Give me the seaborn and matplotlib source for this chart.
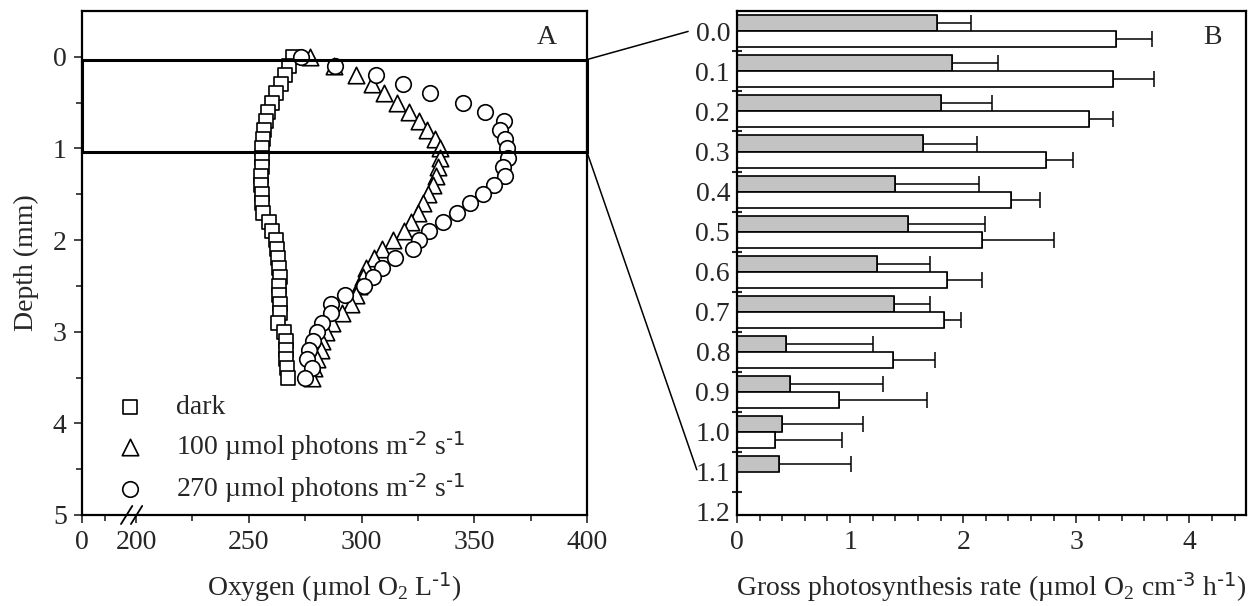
import numpy as np
import pandas as pd
import matplotlib
matplotlib.use("Agg")
import matplotlib.pyplot as plt
import seaborn as sns
from matplotlib.patches import Rectangle, ConnectionPatch

# ---------------- data: panel A (oxygen profiles) ----------------
depth_mm = [0.0, 0.1, 0.2, 0.3, 0.4, 0.5, 0.6, 0.7, 0.8, 0.9,
            1.0, 1.1, 1.2, 1.3, 1.4, 1.5, 1.6, 1.7, 1.8, 1.9,
            2.0, 2.1, 2.2, 2.3, 2.4, 2.5, 2.6, 2.7, 2.8, 2.9,
            3.0, 3.1, 3.2, 3.3, 3.4, 3.5]
oxy_dark = [269.6, 267.8, 265.9, 264.1, 262.2, 260.4, 258.6, 257.5, 256.7, 256.3,
            256.0, 255.8, 255.7, 255.2, 255.6, 256.0, 256.0, 256.4, 258.9, 260.3,
            261.9, 262.4, 262.9, 263.4, 263.7, 263.6, 263.6, 263.7, 263.7, 263.1,
            265.6, 266.4, 266.6, 266.4, 267.1, 267.5]
oxy_100 = [277.2, 287.9, 297.4, 304.5, 310.0, 315.7, 321.2, 325.7, 329.2, 332.4,
           334.6, 334.6, 333.7, 332.8, 331.5, 329.4, 327.1, 324.9, 322.0, 319.0,
           314.1, 309.2, 305.7, 302.1, 300.8, 299.0, 297.6, 295.4, 291.5, 287.0,
           284.2, 282.6, 281.9, 280.4, 278.9, 278.2]
oxy_270 = [273.0, 288.3, 306.4, 318.2, 330.4, 344.9, 354.6, 363.2, 361.3, 363.5,
           364.3, 365.0, 362.8, 363.5, 358.6, 353.9, 348.2, 342.3, 336.0, 329.8,
           325.7, 322.7, 315.0, 309.1, 304.9, 301.2, 292.5, 286.5, 286.4, 282.6,
           280.3, 278.5, 276.7, 276.0, 277.8, 275.1]
legend_labels = ["dark",
                 r"100 µmol photons m$^{\text{-2}}$ s$^{\text{-1}}$",
                 r"270 µmol photons m$^{\text{-2}}$ s$^{\text{-1}}$"]

# ---------------- data: panel B (gross photosynthesis) ----------------
depth_labels = ["0.0", "0.1", "0.2", "0.3", "0.4", "0.5", "0.6",
                "0.7", "0.8", "0.9", "1.0", "1.1", "1.2"]
gp_100 = [1.77, 1.90, 1.80, 1.64, 1.40, 1.51, 1.24, 1.39, 0.43, 0.47, 0.40, 0.37, np.nan]
gp_100_err = [0.30, 0.41, 0.45, 0.48, 0.74, 0.68, 0.47, 0.32, 0.77, 0.82, 0.71, 0.64, np.nan]
gp_270 = [3.35, 3.32, 3.11, 2.73, 2.42, 2.17, 1.86, 1.83, 1.38, 0.90, 0.34, np.nan, np.nan]
gp_270_err = [0.32, 0.37, 0.21, 0.24, 0.26, 0.63, 0.31, 0.15, 0.37, 0.78, 0.59, np.nan, np.nan]

# ---------------- style ----------------
sns.set_style("ticks")
plt.rcParams["font.family"] = ["Liberation Serif", "DejaVu Serif"]
plt.rcParams["mathtext.default"] = "regular"
plt.rcParams["axes.unicode_minus"] = False
FS = 20

W, H = 1253, 606
fig = plt.figure(figsize=(W / 100, H / 100), dpi=100)

def frac(x0, y0, x1, y1):
    return [x0 / W, 1 - y1 / H, (x1 - x0) / W, (y1 - y0) / H]

axA = fig.add_axes(frac(82, 11, 587, 515))
axB = fig.add_axes(frac(737, 11, 1246, 515))

# ---------------- panel A ----------------
X_LEFT = 176.0   # position of the "0" label on the broken axis
X_BREAK = 198.0
dfA = pd.DataFrame({"depth": depth_mm, "dark": oxy_dark, "l100": oxy_100, "l270": oxy_270})
for col, mk, ms, lab in [("dark", "s", 105, legend_labels[0]),
                         ("l100", "^", 140, legend_labels[1]),
                         ("l270", "o", 125, legend_labels[2])]:
    sns.scatterplot(data=dfA, x=col, y="depth", marker=mk, s=ms, facecolor="white",
                    edgecolor="black", linewidth=1.2, ax=axA, label=lab, zorder=3)

axA.set_xlim(X_LEFT, 400)
axA.set_ylim(5, -0.5)
axA.set_xticks([X_LEFT, 200, 250, 300, 350, 400])
axA.set_xticklabels(["0", "200", "250", "300", "350", "400"])
axA.set_xticks([186, 225, 275, 325, 375], minor=True)
axA.set_yticks([0, 1, 2, 3, 4, 5])
axA.set_yticklabels(["0", "1", "2", "3", "4", "5"])
axA.set_yticks([0.5, 1.5, 2.5, 3.5, 4.5], minor=True)
axA.set_xlabel(r"Oxygen (µmol O$_2$ L$^{\text{-1}}$)", fontsize=FS)
axA.set_ylabel("Depth (mm)", fontsize=FS, labelpad=10)
axA.xaxis.labelpad = 11
axA.tick_params(axis="both", which="major", direction="out", length=6, width=1.2,
                labelsize=FS, pad=5)
axA.tick_params(axis="both", which="minor", direction="out", length=4, width=1.2)

leg = axA.legend(loc="upper left", bbox_to_anchor=(0.068, 0.238), frameon=False,
                 fontsize=FS, handlelength=1.0, handletextpad=1.15, labelspacing=0.3,
                 borderpad=0, borderaxespad=0)

# broken-axis marks
for dx in (-2.2, 2.2):
    axA.plot([X_BREAK + dx - 2.5, X_BREAK + dx + 2.5], [-0.018, 0.018],
             transform=axA.get_xaxis_transform(), color="black", lw=1.3, clip_on=False)

# zoom box (0 - 1.05 mm)
axA.add_patch(Rectangle((X_LEFT, 0.03), 400 - X_LEFT, 1.01, fill=False,
                        edgecolor="black", lw=2.2, zorder=4, clip_on=False))
axA.text(0.92, 0.947, "A", transform=axA.transAxes, fontsize=FS, ha="center", va="center")

# ---------------- panel B ----------------
rows = []
for i, d in enumerate(depth_labels):
    if not np.isnan(gp_100[i]):
        rows.append({"depth": d, "light": "100", "rate": gp_100[i], "err": gp_100_err[i]})
    if not np.isnan(gp_270[i]):
        rows.append({"depth": d, "light": "270", "rate": gp_270[i], "err": gp_270_err[i]})
dfB = pd.DataFrame(rows)
sns.barplot(data=dfB, x="rate", y="depth", hue="light", order=depth_labels,
            hue_order=["100", "270"], orient="h", palette=["#c3c3c3", "white"],
            edgecolor="black", linewidth=1.2, errorbar=None, width=0.8,
            legend=False, ax=axB, zorder=2)

err_lookup = {("100", d): e for d, e in zip(depth_labels, gp_100_err)}
err_lookup.update({("270", d): e for d, e in zip(depth_labels, gp_270_err)})
for hue, cont in zip(["100", "270"], axB.containers):
    for bar in cont:
        yc = bar.get_y() + bar.get_height() / 2
        w = bar.get_width()
        if not np.isfinite(w):
            continue
        idx = int(round(yc))
        e = err_lookup[(hue, depth_labels[idx])]
        axB.errorbar(w, yc, xerr=[[0], [e]], fmt="none", ecolor="black",
                     elinewidth=1.1, capsize=5.5, capthick=1.1, zorder=1)

axB.set_xlim(0, 4.5)
axB.set_ylim(12.08, -0.51)
axB.set_xticks([0, 1, 2, 3, 4])
axB.set_xticklabels(["0", "1", "2", "3", "4"])
axB.set_xticks(np.arange(0.2, 4.5, 0.2), minor=True)
axB.set_yticks(range(len(depth_labels)))
axB.set_yticklabels(depth_labels)
axB.set_yticks(np.arange(0.5, 12, 1.0), minor=True)
axB.set_xlabel(r"Gross photosynthesis rate (µmol O$_2$ cm$^{\text{-3}}$ h$^{\text{-1}}$)",
               fontsize=FS)
axB.set_ylabel("")
axB.xaxis.labelpad = 11
axB.tick_params(axis="x", which="major", direction="out", length=6, width=1.2,
                labelsize=FS, pad=5)
axB.tick_params(axis="x", which="minor", direction="out", length=4, width=1.2)
axB.tick_params(axis="y", which="major", length=0, labelsize=FS, pad=5)
axB.tick_params(axis="y", which="minor", direction="inout", length=7, width=1.5)
axB.text(0.935, 0.947, "B", transform=axB.transAxes, fontsize=FS, ha="center", va="center")

for ax in (axA, axB):
    for sp in ax.spines.values():
        sp.set_visible(True)
        sp.set_linewidth(1.6)
        sp.set_color("black")

# connector lines from zoom box to panel B labels
con1 = ConnectionPatch(xyA=(400, 0.03), coordsA=axA.transData,
                       xyB=(-0.096, 0.0), coordsB=axB.get_yaxis_transform(),
                       color="black", lw=1.1)
con2 = ConnectionPatch(xyA=(400, 1.04), coordsA=axA.transData,
                       xyB=(-0.079, 10.95), coordsB=axB.get_yaxis_transform(),
                       color="black", lw=1.1)
fig.add_artist(con1)
fig.add_artist(con2)

fig.savefig("out.png", dpi=100)
